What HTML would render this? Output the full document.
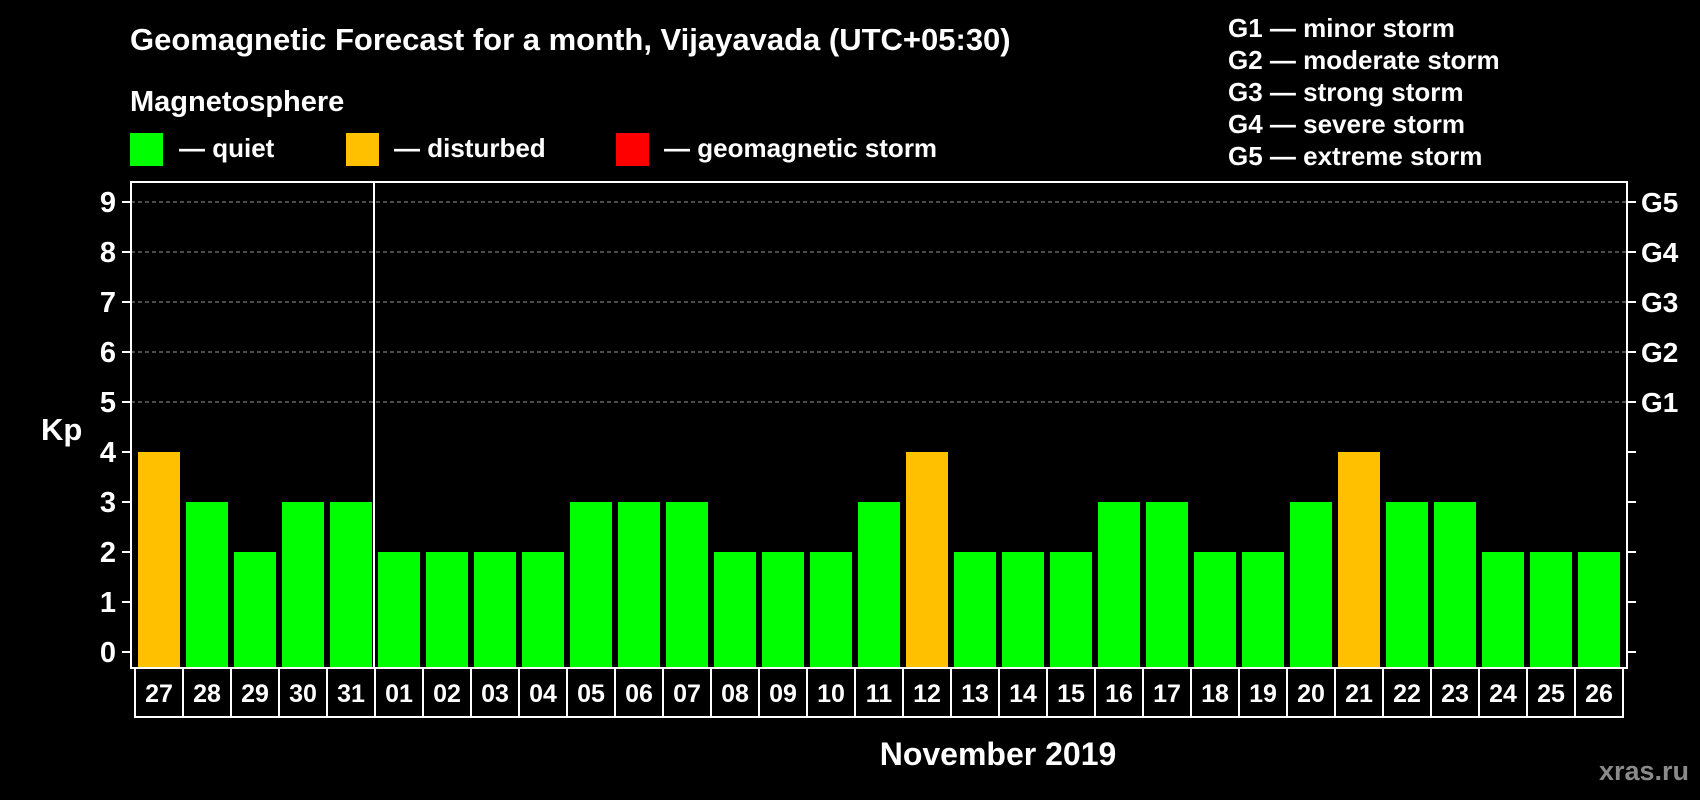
<!DOCTYPE html>
<html><head><meta charset="utf-8"><style>
html,body{margin:0;padding:0;background:#000;}
svg{display:block;font-family:"Liberation Sans",Arial,sans-serif;font-weight:bold;}
</style></head><body>
<svg id="chart" width="1700" height="800" viewBox="0 0 1700 800" xmlns="http://www.w3.org/2000/svg">
<rect x="0" y="0" width="1700" height="800" fill="#000"/>
<text x="130" y="50" fill="#fff" font-size="31">Geomagnetic Forecast for a month, Vijayavada (UTC+05:30)</text>
<text x="130" y="111" fill="#fff" font-size="29">Magnetosphere</text>
<g>
<rect x="130" y="133" width="33" height="33" fill="#00ff00"/>
<text x="179" y="157" fill="#fff" font-size="26">— quiet</text></g>
<g>
<rect x="346" y="133" width="33" height="33" fill="#ffc000"/>
<text x="394" y="157" fill="#fff" font-size="26">— disturbed</text></g>
<g>
<rect x="616" y="133" width="33" height="33" fill="#ff0000"/>
<text x="664" y="157" fill="#fff" font-size="26">— geomagnetic storm</text></g>
<g fill="#fff" font-size="26">
<text x="1228" y="37">G1 — minor storm</text>
<text x="1228" y="69">G2 — moderate storm</text>
<text x="1228" y="101">G3 — strong storm</text>
<text x="1228" y="133">G4 — severe storm</text>
<text x="1228" y="165">G5 — extreme storm</text>
</g>
<text x="41" y="440" fill="#fff" font-size="31">Kp</text>
<text x="998" y="765" fill="#fff" font-size="32" text-anchor="middle">November 2019</text>
<text x="1689" y="780" fill="#8a8a8a" font-size="27" text-anchor="end">xras.ru</text>
<g id="plot"></g>
</svg>
<script>
const days = ["27","28","29","30","31","01","02","03","04","05","06","07","08","09","10","11","12","13","14","15","16","17","18","19","20","21","22","23","24","25","26"];
const kpValues = [4,3,2,3,3,2,2,2,2,3,3,3,2,2,2,3,4,2,2,2,3,3,2,2,3,4,3,3,2,2,2];
const yTicks = [0,1,2,3,4,5,6,7,8,9];
const stormLabels = ["G1","G2","G3","G4","G5"];
const stormLevels = [5,6,7,8,9];
const monthStartIndex = 5;

const NS = "http://www.w3.org/2000/svg";
const plotG = document.getElementById("plot");
const plotLeft = 131, plotRight = 1627, plotTop = 182, plotBottom = 668;
const slot0 = 135, pitch = 48;
function yScale(v){ return 652 - v * 50; }
function xSlot(i){ return slot0 + i * pitch; }
function mk(tag, attrs){ const e = document.createElementNS(NS, tag); for (const k in attrs) e.setAttribute(k, attrs[k]); plotG.appendChild(e); return e; }
function colorFor(v){ return v >= 5 ? "#ff0000" : (v >= 4 ? "#ffc000" : "#00ff00"); }

stormLevels.forEach(function(v){
  const l = mk("line", {x1:plotLeft, x2:plotRight, y1:yScale(v), y2:yScale(v), stroke:"#999", "stroke-width":1, "stroke-dasharray":"4,3"});
  
  
});
kpValues.forEach(function(v, i){
  const r = mk("rect", {x:xSlot(i)+3, y:yScale(v), width:42, height:plotBottom - yScale(v), fill:colorFor(v)});
  
  
});
const fr = mk("rect", {x:plotLeft, y:plotTop, width:plotRight-plotLeft, height:plotBottom-plotTop, fill:"none", stroke:"#fff", "stroke-width":2});


const dv = mk("line", {x1:xSlot(monthStartIndex)-1, x2:xSlot(monthStartIndex)-1, y1:plotTop, y2:plotBottom, stroke:"#fff", "stroke-width":2});


yTicks.forEach(function(v){
  const y = yScale(v);
  const t1 = mk("line", {x1:122, x2:plotLeft, y1:y, y2:y, stroke:"#fff", "stroke-width":2});
  
  
  const t2 = mk("line", {x1:plotRight, x2:1636, y1:y, y2:y, stroke:"#fff", "stroke-width":2});
  
  
  const tx = mk("text", {x:116, y:y+10, fill:"#fff", "font-size":29, "text-anchor":"end"});
  tx.textContent = String(v);
  
  
});
stormLabels.forEach(function(s, i){
  const tx = mk("text", {x:1641, y:yScale(stormLevels[i])+10, fill:"#fff", "font-size":28});
  tx.textContent = s;
  
  
});
days.forEach(function(d, i){
  const b = mk("rect", {x:xSlot(i), y:plotBottom, width:pitch, height:49, fill:"none", stroke:"#fff", "stroke-width":2});
  
  
  const tx = mk("text", {x:xSlot(i)+pitch/2, y:plotBottom+34, fill:"#fff", "font-size":25, "text-anchor":"middle"});
  tx.textContent = d;
  
  
});
</script>
</body></html>
